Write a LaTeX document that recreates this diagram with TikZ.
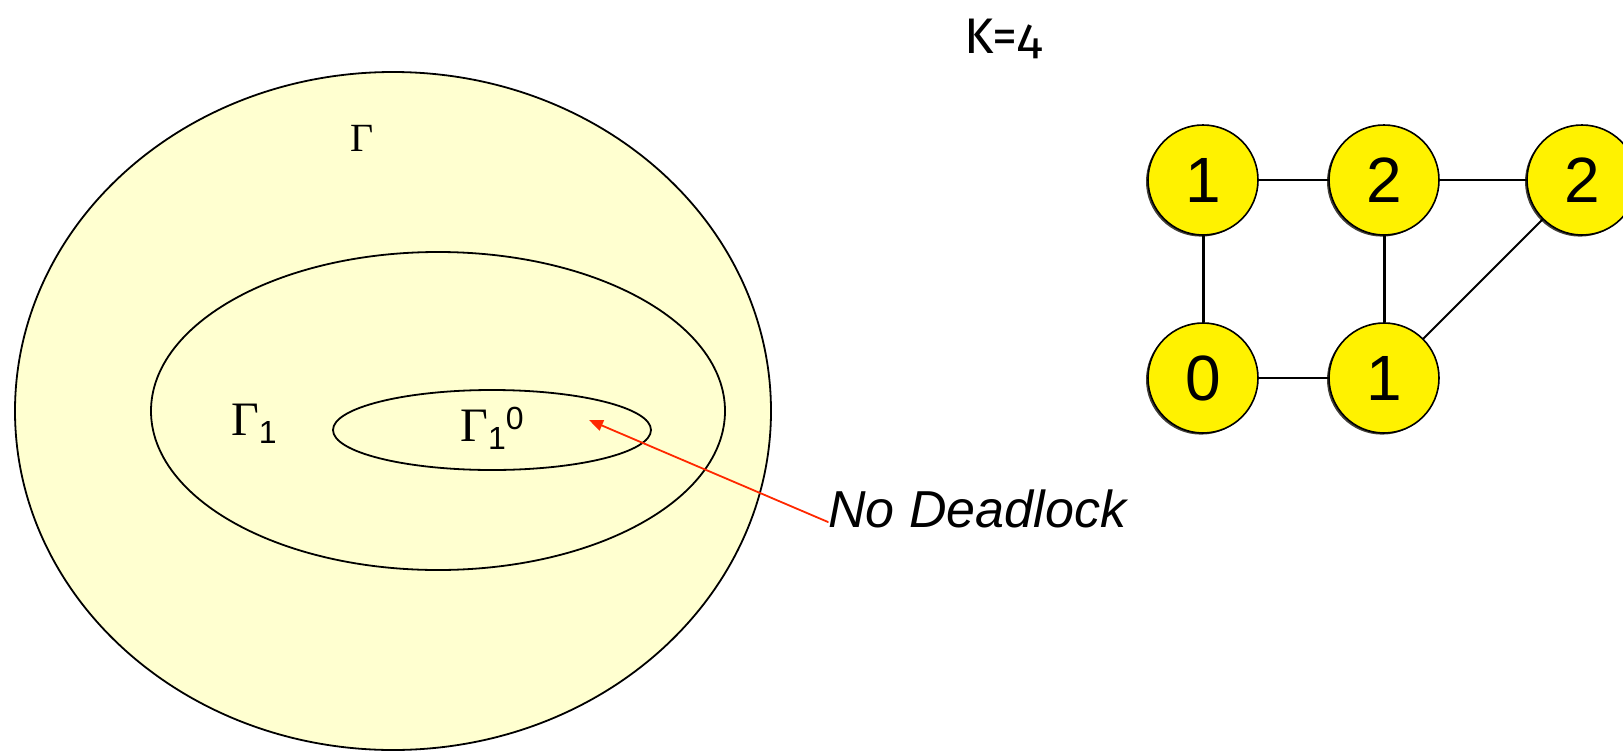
\documentclass[tikz,border=0pt]{standalone}
\usepackage{fontspec}
\setmainfont{Liberation Sans}
\newfontfamily\timesfont{Liberation Serif}
\newfontfamily\kfont[Numbers=OldStyle]{Fira Sans}
\usetikzlibrary{arrows.meta,shadows}
\definecolor{pale}{RGB}{255,255,208}
\definecolor{arrowred}{RGB}{255,40,0}
\tikzset{
  vertex/.style={circle, draw, fill=yellow, line width=0.8pt, minimum size=55pt, inner sep=0pt,
    font=\fontsize{32}{32}\selectfont,
    drop shadow={shadow xshift=-1pt, shadow yshift=-0.8pt, fill=black!85!yellow, opacity=1}},
  edge/.style={line width=0.9pt},
  setline/.style={line width=0.9pt},
}
\newcommand{\gam}{{\timesfont\fontsize{24}{24}\selectfont Γ}}
\newcommand{\lowone}{\raisebox{-0.38em}{\fontsize{16}{16}\selectfont 1}}
\begin{document}
\begin{tikzpicture}[x=0.5pt, y=-0.5pt, line cap=round, line join=round]
  \useasboundingbox (0,0) rectangle (1623,750);
  % the three nested sets
  \filldraw[setline, fill=pale] (393,411) ellipse (189pt and 169.5pt);
  \draw[setline] (438,411) ellipse (143.5pt and 79.5pt);
  \draw[setline] (492,430) ellipse (79.5pt and 20pt);
  \node[font=\timesfont\fontsize{20}{20}\selectfont] (gamma) at (362,138) {Γ};
  \node (gammaone) at (254,424) {\gam\lowone};
  \node (gammazero) at (492,428) {\gam\lowone\raisebox{0.62em}{\fontsize{16}{16}\selectfont 0}};
  % the arrow from the text
  \node[anchor=west, inner sep=0pt, font=\itshape\fontsize{26}{26}\selectfont] (nodl) at (828,509) {No Deadlock};
  \coordinate (tip) at (589,420);
  \draw[-{Triangle[length=7pt,width=5.5pt]}, arrowred, line width=0.9pt] ([yshift=-6.5pt]nodl.west) -- (tip);
  % the graph
  \node[font=\kfont\fontsize{25}{25}\selectfont] (k) at (1003,39) {K=4};
  \node[vertex] (a) at (1203,180) {1};
  \node[vertex] (b) at (1384,180) {2};
  \node[vertex] (c) at (1582,180) {2};
  \node[vertex] (d) at (1203,378) {0};
  \node[vertex] (e) at (1384,378) {1};
  \foreach \u/\v in {a/b, b/c, d/e, e/c} {
    \draw[edge] (\u) -- (\v);
  }
  \foreach \u/\v in {a/d, b/e} {
    \draw[edge, line width=1.5pt] (\u) -- (\v);
  }
\end{tikzpicture}
\end{document}
